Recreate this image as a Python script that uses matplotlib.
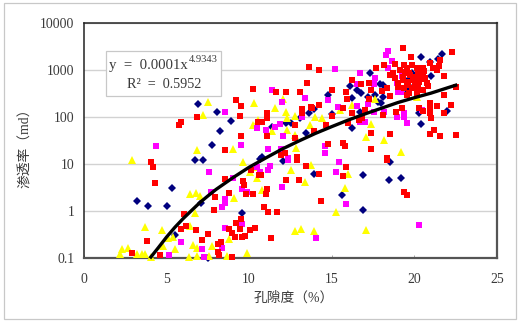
import matplotlib
matplotlib.use("Agg")
import matplotlib.pyplot as plt
from matplotlib.patches import Rectangle

plt.rcParams['font.family'] = ['Liberation Serif', 'Noto Sans CJK SC', 'DejaVu Sans']

red_x = [4.05,4.17,4.3,3.8,2.9,4.6,5.87,6.17,6.8,6.05,7.15,7.5,7.85,7.9,8.8,8.55,8.1,8.3,8.1,8.2,8.95,8.8,8.95,9.15,9.45,9.2,9.5,9.55,9.75,10.05,10.35,9.8,10.2,9.7,9.6,10.1,10.6,10.7,11.05,11.0,10.9,11.15,11.7,11.3,12.2,13.0,13.45,14.2,14.35,15.7,15.85,19.4,19.55,12.9,18.35,
 5.75,5.87,6.84,8.54,9.5,9.44,9.2,9.5,10.23,10.53,
 13.6,14.2,13.5,11.6,12.2,13.1,15.0,14.2,13.75,13.2,13.2,13.8,11.1,11.05,10.8,12.8,14.65,15.0,13.9,11.1,12.8,12.15,11.9,12.9,14.75,15.65,15.8,17.4,17.4,18.5,18.35,16.0,16.2,16.75,17.25,15.85,15.9,15.65,16.2,16.65,16.8,17.25,17.4,17.65,18.15,18.05,18.35,18.55,18.1,18.9,19.25,17.0,
 19.3,22.25,19.8,21.55,21.5,21.35,21.1,18.8,19.35,19.55,19.85,20.15,20.5,20.95,19.1,18.5,18.8,19.3,19.7,20.2,20.65,19.0,19.55,19.9,20.3,20.75,19.4,19.85,20.2,19.7,20.15,20.5,19.55,21.8,21.8,22.5,22.2,21.8,21.35,20.95,20.95,20.95,21.0,20.3,20.5,20.95,21.2,21.55,22.5,20.15,20.5,
 19.0,19.6,20.0,20.4,20.8,19.3,19.75,20.35,18.7,20.05,19.45,20.6]
red_y = [11,8.7,3.95,0.23,0.127,0.115,0.41,0.48,0.39,0.86,0.24,0.32,1.05,2.0,2.4,4.8,0.2,0.22,0.133,0.115,0.105,0.41,0.34,0.28,0.41,0.55,0.67,0.28,0.29,0.39,0.43,2.3,2.3,3.6,4.4,7.5,5.9,5.9,2.95,2.3,1.2,0.95,0.95,0.27,4.6,4.6,9.1,6.2,1.6,5.6,8.7,2.5,2.2,12,12,
 68,80,100,20,40,108,230,170,400,78,
 1170,1000,540,340,340,340,380,180,165,150,125,155,125,96,78,68,68,105,50,40,36,17,15.5,14,27,28,24,21,46,44,13.5,75,620,510,540,340,245,155,125,88,96,245,380,1130,1300,360,420,280,110,130,155,142,
 2950,2500,1950,1650,1250,1000,1100,1370,1300,1130,1300,1130,1130,1450,1000,800,680,720,880,880,680,540,560,620,560,540,420,420,420,330,330,380,300,760,300,450,180,125,175,200,155,125,96,155,135,44,53,40,42,480,800,
 430,480,720,650,460,620,780,700,880,540,900,980]

mag_x = [4.35,8.55,9.5,10.5,7.55,9.0,7.7,8.55,8.55,8.35,9.55,8.55,5.87,5.15,7.15,7.25,8.35,9.55,9.85,10.65,10.45,11.25,11.15,12.0,12.35,15.45,15.25,15.85,20.3,14.05,
 18.4,18.3,15.2,16.7,17.6,18.65,18.4,17.55,16.5,11.4,13.35,12.0,14.75,15.35,16.55,17.2,17.55,18.15,18.95,19.35,19.35,19.55,19.2,20.45,18.95,10.75,13.2,11.85,11.55,11.0,12.05,16.7,17.0,11.15,11.9,12.35,14.6,14.6,19.25,19.0]
mag_y = [24,130,25.5,59,6.8,5,2.55,1.8,1.5,1.2,0.53,0.43,0.22,0.115,0.155,0.105,0.16,2.95,2.55,6.8,8.7,9,7.5,3.3,12.5,11,6.8,1.4,0.5,0.27,
 2600,2150,1070,880,690,1600,1130,510,510,380,260,212,235,165,175,190,130,130,100,125,100,75,340,142,540,78,100,72,62,53,40,80,80,21,21,13.5,24,17,760,340]

navy_x = [6.9,8.05,8.9,8.25,7.75,6.7,7.2,10.65,5.3,3.2,3.85,5.05,7.1,9.55,5.5,7.5,12.05,18.5,13.95,16.9,18.45,19.2,15.6,16.9,
 21.65,21.4,20.4,20.95,21.0,19.85,22.0,20.4,20.3,17.3,16.1,16.55,16.75,17.9,18.1,14.75,16.25,17.2,18.1,17.6,17.8,18.0,16.7,15.0,13.6,13.1,13.9,12.5,12.2,11.4,16.2,13.45,19.7,19.6,20.05,19.55,10.75]
navy_y = [192,130,83,50,25.5,12.3,12.3,12.8,3.1,1.65,1.28,1.28,1.5,0.9,0.31,0.1,11.7,11,6.2,5.9,4.6,5,2.2,1.05,
 2250,1750,1950,1500,760,880,135,72,125,880,460,380,330,510,480,300,260,270,270,300,215,200,130,115,120,95,150,76,76,62,59,46,460,620,620,380,14]

yel_x = [7.5,10.3,7.2,10.2,6.85,9.0,2.9,10.55,9.6,10.05,10.45,6.4,6.8,7.0,9.05,6.7,3.7,4.7,6.4,5.1,5.4,4.8,5.5,2.3,2.65,2.15,3.2,3.5,3.7,4.05,6.35,6.85,6.6,6.85,7.55,7.75,8.75,8.65,9.85,10.5,
 12.55,13.75,13.4,16.0,15.8,15.25,12.8,13.15,13.95,17.1,10.75,
 12.05,11.55,12.2,12.8,12.3,11.4,12.3,13.7,14.0,14.4,15.5,16.2,17.6,17.35,17.1,18.15,19.2,12.8,12.85,20.15]
yel_y = [212,200,111,68,20,21,12.3,88,11,6.8,5,2.3,2.4,2.1,1.9,0.9,0.45,0.39,0.48,0.27,0.28,0.18,0.155,0.155,0.165,0.12,0.12,0.12,0.12,0.105,0.105,0.11,0.19,0.165,0.11,0.18,0.25,0.11,0.125,8.7,
 7.5,9.6,4.1,6.2,3.1,0.95,0.37,0.41,0.37,0.39,2.8,
 245,155,130,105,96,50,53,68,100,96,142,180,245,72,38,33,18,41,22,270]

trend_x = [4.05,4.5,5,5.5,6,6.5,7,7.5,8,9,10,11,12,13,14,15,16,17,18,19,20,21,22.5]
trend_y = [0.105,0.166,0.28,0.45,0.69,1.02,1.5,2.1,2.9,5.1,8.6,13.5,21,31,45,63,87,117,155,205,260,325,480]

x_ticks = [0,5,10,15,20,25]
y_ticks = [0.1,1,10,100,1000,10000]
y_labels = ['0.1','1','10','100','1000','10000']
text_col = '#3a3a3a'
W, H = 519, 321

fig = plt.figure(figsize=(W/100, H/100), dpi=100, facecolor='white')
ax = fig.add_axes([84/W, 1-258/H, (497-84)/W, (258-23.3)/H])
fig.patches.append(Rectangle((3.5/W, 1-319/H), 512/W, 316.5/H, transform=fig.transFigure,
                             fill=False, edgecolor='#c8c8c8', linewidth=0.9))

ax.set_xscale('linear'); ax.set_yscale('log')
ax.set_xlim(0,25); ax.set_ylim(0.1,10000)
ax.minorticks_off()
ax.set_xticks(x_ticks); ax.set_xticklabels([str(v) for v in x_ticks])
ax.set_yticks(y_ticks); ax.set_yticklabels(y_labels)
ax.tick_params(axis='x', direction='in', length=2.5, width=0.6, color='#999999', pad=11, labelsize=9.9, labelcolor=text_col)
ax.tick_params(axis='y', length=0, pad=7, labelsize=9.9, labelcolor=text_col)
ax.grid(axis='y', color='#d2d2d2', linewidth=1.0, zorder=0)
ax.set_axisbelow(True)
for side, c, lw in [('top','#222222',1.1),('left','#222222',1.1),('right','#555555',1.6),('bottom','#555555',1.6)]:
    ax.spines[side].set_color(c); ax.spines[side].set_linewidth(lw)

ax.plot(navy_x, navy_y, ls='none', marker='D', ms=3.8, color='#00007f', mew=0, clip_on=False, zorder=3)
ax.plot(yel_x, yel_y, ls='none', marker='^', ms=6.0, color='#ffff00', mew=0, clip_on=False, zorder=4)
ax.plot(mag_x, mag_y, ls='none', marker='s', ms=5.0, color='#ff00ff', mew=0, clip_on=False, zorder=5)
ax.plot(red_x, red_y, ls='none', marker='s', ms=5.0, color='#ff0000', mew=0, clip_on=False, zorder=6)
ax.plot(trend_x, trend_y, color='black', lw=2.4, solid_joinstyle='round', clip_on=False, zorder=7)

fig.text(294/W, 1-298/H, '孔隙度（%）', ha='center', va='center', fontsize=9.9, color=text_col)
fig.text(25/W, 1-145/H, '渗透率（md）', ha='center', va='center', rotation=90, fontsize=9.9, color=text_col)

fig.patches.append(Rectangle((106/W, 1-96/H), 115/W, 45/H, transform=fig.transFigure,
                             facecolor='white', edgecolor='#c8c8c8', linewidth=0.9, zorder=8))
fig.text(109/W, 1-66/H, 'y  =  0.0001x', ha='left', va='center', fontsize=10.6, color=text_col, zorder=9)
fig.text(189/W, 1-60/H, '4.9343', ha='left', va='center', fontsize=7.6, color=text_col, zorder=9)
fig.text(164/W, 1-85/H, 'R²  =  0.5952', ha='center', va='center', fontsize=10.2, color=text_col, zorder=9)

fig.savefig('out.png', dpi=100, facecolor='white')
